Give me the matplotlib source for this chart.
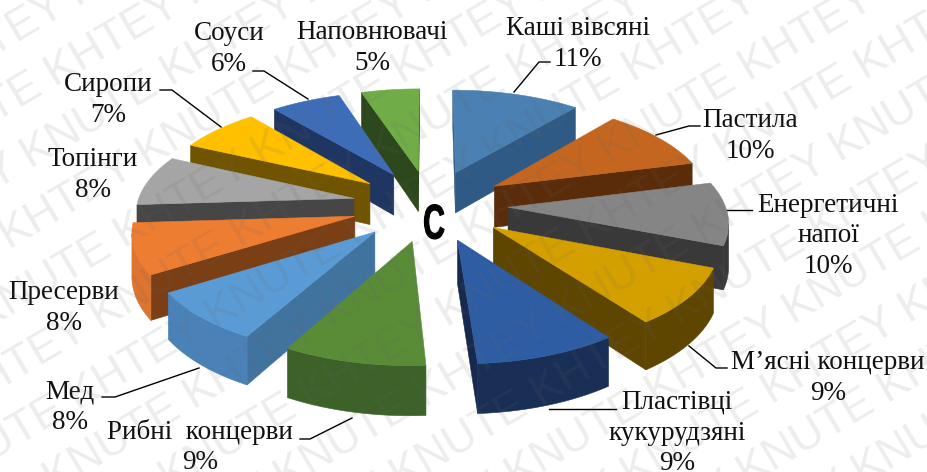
import numpy as np
import matplotlib
matplotlib.use('Agg')
import matplotlib.pyplot as plt
from matplotlib.patches import Polygon
from matplotlib.patheffects import AbstractPathEffect
from matplotlib.transforms import Affine2D

labels = ['Каші вівсяні', 'Пастила', 'Енергетичні\nнапої', 'М’ясні концерви',
          'Пластівці\nкукурудзяні', 'Рибні  концерви', 'Мед', 'Пресерви',
          'Топінги', 'Сиропи', 'Соуси', 'Наповнювачі']
values = [11, 10, 10, 9, 9, 9, 8, 8, 8, 7, 6, 5]

top_colors = ['#4a80b2', '#c4661f', '#858585', '#d4a000', '#2f5da4', '#5a8c38',
              '#5b9bd5', '#ed7d31', '#a5a5a5', '#ffc000', '#3e6db8', '#70ad47']
side_colors = ['#2f5a85', '#5a2c0a', '#393939', '#5e4500', '#17294e', '#3a5c22',
               '#41739f', '#7a3f15', '#464646', '#705400', '#1f3562', '#2d481c']
arc_colors = ['#2f5a85', '#5a2c0a', '#393939', '#5e4500', '#1a2f56', '#3d6229',
              '#4a82b8', '#dd7430', '#464646', '#705400', '#1f3562', '#2d481c']

# label block centres and leader lines, in image pixels
label_pos = [(578, 44), (750, 136), (828, 236), (828, 378), (677, 433),
             (200, 447), (70, 407), (64, 308), (93, 175), (108, 100), (229, 49), (372, 48)]
leaders = [[(514, 92), (539, 62), (550, 62)],
           [(656, 135), (689, 126), (700, 126)],
           [(727, 210), (752, 210)],
           [(689, 346), (716, 368), (727, 368)],
           [(549, 409), (616, 409)],
           [(352, 418), (310, 439), (300, 439)],
           [(199, 368), (115, 397), (102, 397)],
           None,
           None,
           [(160, 90), (172, 90), (221, 127)],
           [(253, 71), (264, 71), (308, 99)],
           None]

CX, CY = 430, 205
EXPLODE = 78
RADIUS = 217
TILT = 0.459
PERSP = 0.166 / 300
DEPTH = 42


class Narrow(AbstractPathEffect):
    # squeezes the glyph horizontally around x0 (display coords) and thickens it
    def __init__(self, x0, sx, lw):
        super().__init__()
        self.x0, self.sx, self.lw = x0, sx, lw

    def draw_path(self, renderer, gc, tpath, affine, rgbFace=None):
        squeeze = Affine2D().translate(-self.x0, 0).scale(self.sx, 1).translate(self.x0, 0)
        gc0 = renderer.new_gc()
        gc0.copy_properties(gc)
        gc0.set_linewidth(self.lw)
        gc0.set_foreground('black')
        renderer.draw_path(gc0, tpath, affine + squeeze, rgbFace)
        gc0.restore()


def project(X, Y, z=0):
    s = 1 / (1 + PERSP * Y)
    return CX + X * s, CY - TILT * Y * s + z * s


def slice_outline(a0, a1):
    mid = (a0 + a1) / 2
    tx, ty = EXPLODE * np.sin(mid), EXPLODE * np.cos(mid)
    th = np.linspace(a0, a1, 40)
    X = np.r_[tx, tx + RADIUS * np.sin(th)]
    Y = np.r_[ty, ty + RADIUS * np.cos(th)]
    return X, Y


fig = plt.figure(figsize=(9.28, 4.72), dpi=100)
ax = fig.add_axes([0, 0, 1, 1])
ax.set_xlim(0, 928)
ax.set_ylim(472, 0)
ax.axis('off')

edges = np.cumsum([0] + values) / sum(values) * 2 * np.pi
order = sorted(range(len(values)), key=lambda i: -np.cos((edges[i] + edges[i + 1]) / 2))
for i in order:
    X, Y = slice_outline(edges[i], edges[i + 1])
    px, py = project(X, Y)
    qx, qy = project(X, Y, DEPTH)
    n = len(px)
    # clockwise outline: a wall shows only where the edge runs leftwards
    for j, k in [(0, 1), (n - 1, 0)]:
        if px[k] - px[j] < 0:
            ax.add_patch(Polygon([(px[j], py[j]), (px[k], py[k]), (qx[k], qy[k]), (qx[j], qy[j])],
                                 closed=True, fc=side_colors[i], ec=side_colors[i], lw=0.4))
    vis = [j for j in range(1, n - 1) if px[j + 1] - px[j] < 0]
    if vis:
        idx = vis + [vis[-1] + 1]
        wall = np.r_[np.c_[px[idx], py[idx]], np.c_[qx[idx], qy[idx]][::-1]]
        ax.add_patch(Polygon(wall, closed=True, fc=arc_colors[i], ec=arc_colors[i], lw=0.4))
    ax.add_patch(Polygon(np.c_[px, py], closed=True, fc=top_colors[i], ec=top_colors[i], lw=0.4))

for i, lab in enumerate(labels):
    ax.text(label_pos[i][0], label_pos[i][1], '%s\n%d%%' % (lab, values[i]), ha='center', va='center',
            family='Liberation Serif', fontsize=19.5, linespacing=1.3, color='#111111')
    if leaders[i] is not None:
        ax.plot(*zip(*leaders[i]), color='black', lw=1)

ax.text(434, 226, 'C', ha='center', va='center', fontsize=35, fontweight='bold', color='black',
        family='Liberation Sans', path_effects=[Narrow(434, 0.62, 0.8)])

# watermark rows
ang = np.deg2rad(30.6)
for n in range(-7, 8):
    x = 770 - 306 + n * 58 * np.sin(ang) + n * 100 * np.cos(ang)
    y = 62 + 174 + n * 58 * np.cos(ang) - n * 100 * np.sin(ang)
    ax.text(x, y, 'KNUTE KHTEY ' * 7, rotation=30.6, rotation_mode='anchor', ha='center', va='center',
            family='Liberation Sans', fontsize=32, color='#666666', alpha=0.12, clip_on=True)

plt.savefig('out.png', dpi=100)
